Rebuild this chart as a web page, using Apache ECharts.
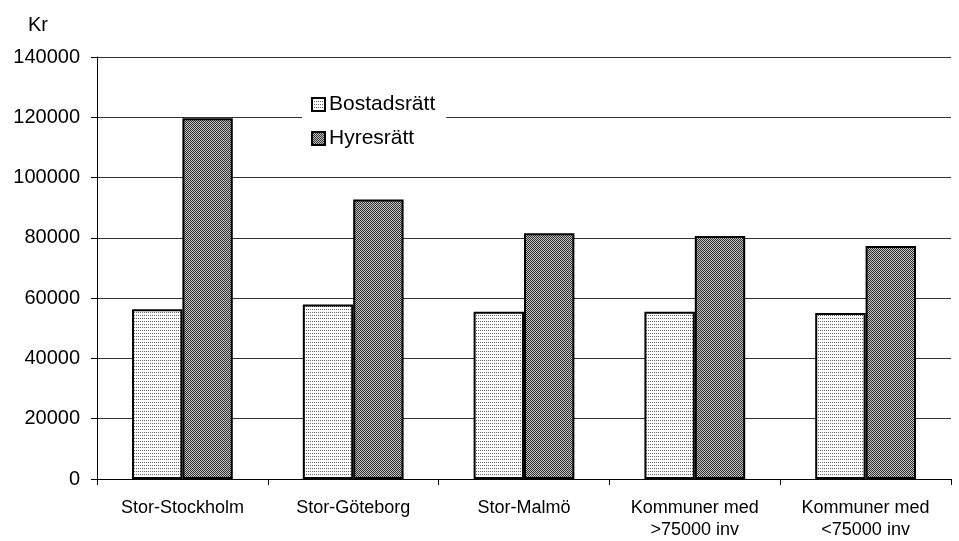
<!DOCTYPE html>
<html>
<head>
<meta charset="utf-8">
<script src="https://cdn.jsdelivr.net/npm/echarts@6/dist/echarts.min.js"></script>
<style>
  html, body { margin: 0; padding: 0; background: #fff; }
  #chart { width: 959px; height: 541px; }
</style>
</head>
<body>
<div id="chart"></div>
<script>
// Regions and average amounts (kr) by tenure type
const categories = ['Stor-Stockholm', 'Stor-Göteborg', 'Stor-Malmö', 'Kommuner med\n>75000 inv', 'Kommuner med\n<75000 inv'];
const seriesNames = ['Bostadsrätt', 'Hyresrätt'];
const bostadsratt = [56300, 57900, 55500, 55500, 55100];
const hyresratt = [119700, 92700, 81500, 80600, 77300];
const yTicks = [0, 20000, 40000, 60000, 80000, 100000, 120000, 140000];

// Fill patterns drawn on small canvases
function dotPattern() {
  const c = document.createElement('canvas');
  c.width = 2; c.height = 3;
  const g = c.getContext('2d');
  g.fillStyle = '#ffffff'; g.fillRect(0, 0, 2, 3);
  g.fillStyle = '#666666'; g.fillRect(0, 0, 1, 1);
  return c;
}
function checkPattern() {
  const c = document.createElement('canvas');
  c.width = 2; c.height = 2;
  const g = c.getContext('2d');
  g.fillStyle = '#c0c0c0'; g.fillRect(0, 0, 2, 2);
  g.fillStyle = '#333333'; g.fillRect(0, 0, 1, 1); g.fillRect(1, 1, 1, 1);
  return c;
}

const chart = echarts.init(document.getElementById('chart'), null, { renderer: 'canvas' });
const font = 'Liberation Sans, Arial, sans-serif';

chart.setOption({
  animation: false,
  backgroundColor: '#ffffff',
  grid: { left: 97, right: 8, top: 57, bottom: 58 },
  legend: {
    orient: 'vertical',
    left: 302,
    top: 91,
    padding: [3, 11, 20, 9],
    backgroundColor: '#ffffff',
    icon: 'rect',
    itemWidth: 13,
    itemHeight: 13,
    itemGap: 13,
    data: seriesNames,
    textStyle: { fontFamily: font, fontSize: 21, color: '#000', padding: [0, 0, 0, -1] }
  },
  xAxis: {
    type: 'category',
    data: categories,
    axisLine: { lineStyle: { color: '#000', width: 1 } },
    axisTick: { show: true, length: 6, lineStyle: { color: '#000' } },
    axisLabel: { fontFamily: font, fontSize: 18, color: '#000', margin: 18, lineHeight: 22, interval: 0 }
  },
  yAxis: {
    type: 'value',
    min: yTicks[0],
    max: yTicks[yTicks.length - 1],
    interval: 20000,
    name: 'Kr',
    nameLocation: 'end',
    nameGap: 22,
    nameTextStyle: { fontFamily: font, fontSize: 20, color: '#000', align: 'right', padding: [0, 49, 0, 0] },
    axisLine: { show: true, lineStyle: { color: '#000', width: 1 } },
    axisTick: { show: true, length: 6, lineStyle: { color: '#000' } },
    axisLabel: { fontFamily: font, fontSize: 20, color: '#000', margin: 17, formatter: v => String(v) },
    splitLine: { show: true, lineStyle: { color: '#333', width: 1 } }
  },
  series: [
    {
      name: seriesNames[0],
      type: 'bar',
      data: bostadsratt,
      barGap: '0%',
      barCategoryGap: '41%',
      itemStyle: { color: { image: dotPattern(), repeat: 'repeat' }, borderColor: '#000', borderWidth: 2 }
    },
    {
      name: seriesNames[1],
      type: 'bar',
      data: hyresratt,
      barGap: '0%',
      barCategoryGap: '41%',
      itemStyle: { color: { image: checkPattern(), repeat: 'repeat' }, borderColor: '#000', borderWidth: 2 }
    }
  ]
});
</script>
</body>
</html>
